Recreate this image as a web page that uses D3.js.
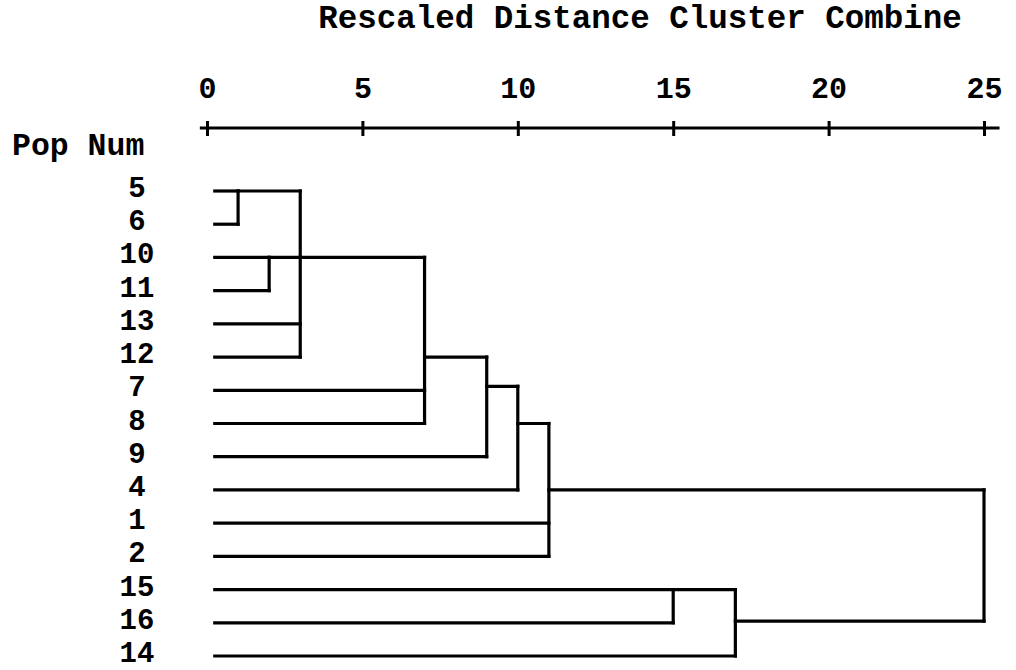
<!DOCTYPE html>
<html>
<head>
<meta charset="utf-8">
<script src="https://cdn.jsdelivr.net/npm/d3@7"></script>
<style>
  html, body { margin: 0; padding: 0; background: #fff; }
  svg text { font-family: "Liberation Mono", "Courier New", monospace; font-weight: bold; fill: #000; }
</style>
</head>
<body>
<svg id="chart" width="1016" height="670"></svg>
<script>
// Leaf labels in dendrogram order (top to bottom)
const popNums = ["5", "6", "10", "11", "13", "12", "7", "8", "9", "4", "1", "2", "15", "16", "14"];

// Axis tick values (rescaled distance)
const tickValues = [0, 5, 10, 15, 20, 25];

// Agglomeration steps: members are leaf labels or earlier step ids,
// distance is the rescaled combine distance, exitRow is the row
// position (in leaf units) where the joined cluster's line leaves.
const stepIds       = ["c1", "c2", "c3", "c4", "c5", "c6", "c7", "c8", "c9", "c10"];
const stepMembers   = [["5", "6"], ["10", "11"], ["c1", "c2", "13", "12"], ["c3", "7", "8"],
                       ["c4", "9"], ["c5", "4"], ["c6", "1", "2"], ["15", "16"], ["c8", "14"], ["c7", "c9"]];
const stepDistances = [1, 2, 3, 7, 9, 10, 11, 15, 17, 25];
const stepExitRows  = [0, 2, 2, 5, 5.88, 7, 9, 12, 12.95, null];

const leafStart = 0.25;

const svg = d3.select("#chart");

const x = d3.scaleLinear().domain([0, 25]).range([207, 984]);
const y = d3.scaleLinear().domain([0, popNums.length - 1]).range([191, 656]);

// Title
svg.append("text")
  .attr("x", 640).attr("y", 28)
  .attr("text-anchor", "middle")
  .style("font-size", "32.5px")
  .text("Rescaled Distance Cluster Combine");

// Axis
const axisY = 128;
const axisG = svg.append("g")
  .attr("transform", `translate(0,${axisY})`)
  .call(d3.axisTop(x).tickValues(tickValues).tickFormat(d3.format("d")).tickSize(8));
axisG.select(".domain").remove();
axisG.append("line")
  .attr("x1", x(-0.23)).attr("x2", x(25.5))
  .attr("stroke", "#000").attr("stroke-width", 3.2);
axisG.selectAll(".tick line")
  .attr("y1", 8).attr("y2", -7)
  .attr("stroke", "#000").attr("stroke-width", 3);
axisG.selectAll(".tick text")
  .attr("y", -30).attr("dy", 0)
  .style("font-size", "30px")
  .style("font-family", "'Liberation Mono', monospace")
  .style("font-weight", "bold")
  .attr("fill", "#000");

// Row header
svg.append("text")
  .attr("x", 12).attr("y", 155)
  .style("font-size", "31.5px")
  .text("Pop Num");

// Row labels
svg.append("g").selectAll("text")
  .data(popNums)
  .join("text")
  .attr("x", 137)
  .attr("y", (d, i) => y(i) + 6)
  .attr("text-anchor", "middle")
  .style("font-size", "29px")
  .text(d => d);

// Resolve each node's exit position and start distance
const node = {};
popNums.forEach((p, i) => { node[p] = { row: i, start: leafStart }; });
stepIds.forEach((id, k) => {
  node[id] = { row: stepExitRows[k], start: stepDistances[k] };
});

const links = svg.append("g")
  .attr("fill", "none")
  .attr("stroke", "#000")
  .attr("stroke-width", 3.2)
  .attr("stroke-linecap", "square");

stepIds.forEach((id, k) => {
  const d = stepDistances[k];
  const rows = stepMembers[k].map(m => node[m].row);
  // horizontal line from each member to the joining distance
  stepMembers[k].forEach(m => {
    links.append("line")
      .attr("x1", x(node[m].start)).attr("x2", x(d))
      .attr("y1", y(node[m].row)).attr("y2", y(node[m].row));
  });
  // vertical joining bar
  links.append("line")
    .attr("x1", x(d)).attr("x2", x(d))
    .attr("y1", y(d3.min(rows))).attr("y2", y(d3.max(rows)));
});
</script>
</body>
</html>
